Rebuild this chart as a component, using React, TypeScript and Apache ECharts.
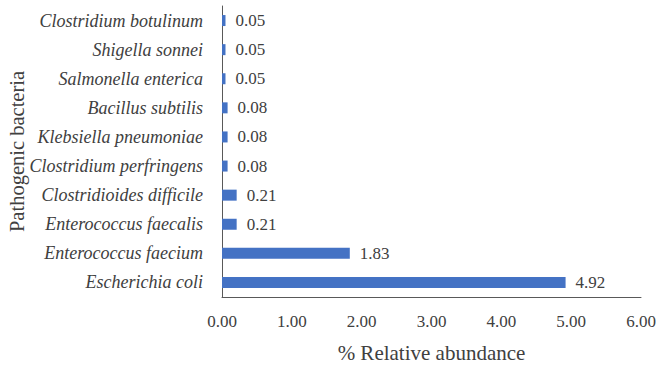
import React, { useEffect, useRef } from "react";
import * as echarts from "echarts";

// Species listed from top to bottom
const species = [
  "Clostridium botulinum",
  "Shigella sonnei",
  "Salmonella enterica",
  "Bacillus subtilis",
  "Klebsiella pneumoniae",
  "Clostridium perfringens",
  "Clostridioides difficile",
  "Enterococcus faecalis",
  "Enterococcus faecium",
  "Escherichia coli",
];
const abundance = [0.05, 0.05, 0.05, 0.08, 0.08, 0.08, 0.21, 0.21, 1.83, 4.92];
const xTicks = { min: 0, max: 6, interval: 1 };

const FONT = "Liberation Serif, serif";
const TEXT = "#404040";

export default function App() {
  const ref = useRef<HTMLDivElement>(null);
  useEffect(() => {
    if (!ref.current) return;
    const chart = echarts.init(ref.current, undefined, { renderer: "svg" });
    chart.setOption({
      animation: false,
      textStyle: { fontFamily: FONT },
      grid: {
        left: 222,
        right: 17,
        top: 6,
        bottom: 72,
        containLabel: false,
        outerBoundsMode: "none",
      },
      xAxis: {
        type: "value",
        min: xTicks.min,
        max: xTicks.max,
        interval: xTicks.interval,
        name: "% Relative abundance",
        nameLocation: "middle",
        nameGap: 45,
        nameMoveOverlap: false,
        nameTextStyle: { fontFamily: FONT, fontSize: 21, color: TEXT },
        axisLine: { show: true, lineStyle: { color: "#595959", width: 1 } },
        axisTick: { show: false },
        splitLine: { show: false },
        axisLabel: {
          margin: 16,
          fontFamily: FONT,
          fontSize: 17,
          color: TEXT,
          formatter: (v: number) => v.toFixed(2),
        },
      },
      yAxis: {
        type: "category",
        data: species,
        inverse: true,
        name: "Pathogenic bacteria",
        nameLocation: "middle",
        nameGap: 195,
        nameMoveOverlap: false,
        nameRotate: 90,
        nameTextStyle: { fontFamily: FONT, fontSize: 20.5, color: TEXT },
        axisLine: { show: true, lineStyle: { color: "#595959", width: 1 } },
        axisTick: { show: false },
        axisLabel: {
          margin: 19,
          fontFamily: FONT,
          fontStyle: "italic",
          fontSize: 18,
          color: TEXT,
        },
      },
      series: [
        {
          type: "bar",
          data: abundance,
          barWidth: 11,
          itemStyle: { color: "#4472C4" },
          label: {
            show: true,
            position: "right",
            distance: 10,
            fontFamily: FONT,
            fontSize: 17,
            color: TEXT,
            formatter: (p: any) => p.value.toFixed(2),
          },
        },
      ],
    });
    return () => chart.dispose();
  }, []);
  return <div ref={ref} style={{ width: 658, height: 369, position: "absolute", left: 0, top: 0 }} />;
}
